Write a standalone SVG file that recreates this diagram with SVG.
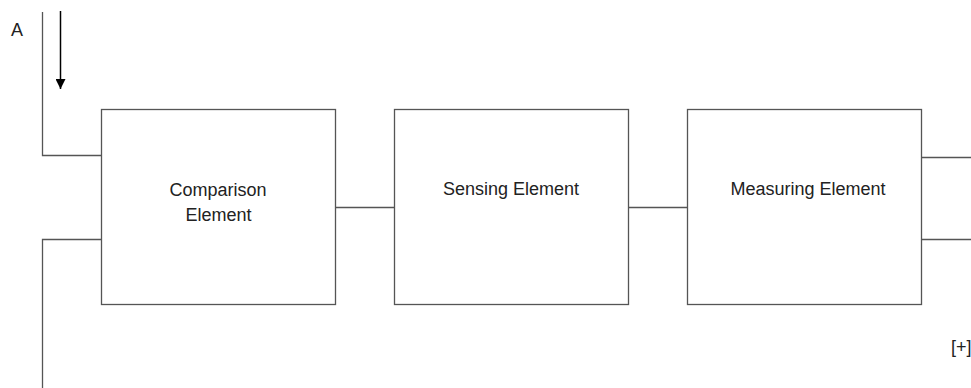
<svg xmlns="http://www.w3.org/2000/svg" width="971" height="388" viewBox="0 0 971 388">
<style>
.box{fill:#fff;stroke:#555;stroke-width:1.3}
.ln{fill:none;stroke:#555;stroke-width:1.3}
text{font-family:"Liberation Sans",Arial,sans-serif;font-size:18px;fill:#222}
</style>
<defs>
<marker id="ah" viewBox="0 0 10 10" refX="10" refY="5" markerWidth="10" markerHeight="10" markerUnits="userSpaceOnUse" orient="auto">
<path d="M0,0 L10,5 L0,10 z" fill="#000"/>
</marker>
</defs>
<rect width="971" height="388" fill="#fff"/>
<g id="connectors">
<path class="ln" d="M42.5,12 V155.5 H101"/>
<path class="ln" d="M42.5,388 V239.5 H101"/>
<path class="ln" d="M335,207.5 H394"/>
<path class="ln" d="M628,207.5 H687"/>
<path class="ln" d="M921,157.5 H971"/>
<path class="ln" d="M921,239.5 H971"/>
<line x1="60.5" y1="11" x2="60.5" y2="89" stroke="#000" stroke-width="1.5" marker-end="url(#ah)"/>
</g>
<g id="label-a"><text x="11" y="36">A</text></g>
<g id="comparison"><rect class="box" x="101.5" y="109.5" width="234" height="195"/><text x="218" y="196" text-anchor="middle">Comparison</text><text x="218.5" y="221" text-anchor="middle">Element</text></g>
<g id="sensing"><rect class="box" x="394.5" y="109.5" width="234" height="195"/><text x="511" y="195" text-anchor="middle">Sensing Element</text></g>
<g id="measuring"><rect class="box" x="687.5" y="109.5" width="234" height="195"/><text x="808" y="195" text-anchor="middle">Measuring Element</text></g>
<g id="label-plus"><text x="951" y="353" font-size="17">[+]</text></g>
</svg>
